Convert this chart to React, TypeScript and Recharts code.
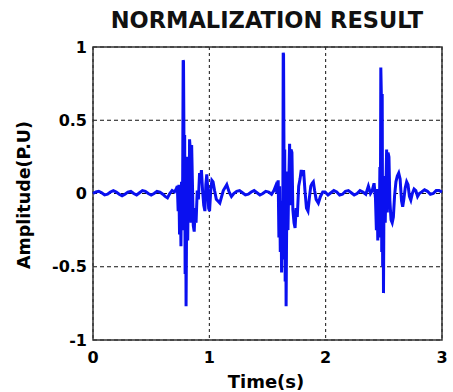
import React from "react";
import { LineChart, Line, XAxis, YAxis, CartesianGrid, ReferenceArea, Label } from "recharts";

// [time (s), amplitude (P.U)], segment by segment
const leadIn: [number, number][] = [
  [0, 0.0], [0.025, 0.01], [0.05, 0.015], [0.075, 0.005], [0.1, -0.01], [0.125, -0.005], [0.15, 0.01],
  [0.175, 0.02], [0.2, 0.01], [0.225, -0.005], [0.25, -0.015], [0.275, -0.005], [0.3, 0.01], [0.325, 0.015],
  [0.35, 0.0], [0.375, -0.01], [0.4, 0.005], [0.425, 0.02], [0.45, 0.015], [0.475, 0.0], [0.5, -0.01],
  [0.525, 0.0], [0.55, 0.015], [0.575, 0.01], [0.6, -0.005], [0.62, -0.02], [0.64, -0.03], [0.66, 0.0],
  [0.68, 0.02], [0.7, 0.01], [0.715, 0.03], [0.725, 0.05],
];

const burst1: [number, number][] = [
  [0.732, -0.12], [0.738, 0.06], [0.744, -0.28], [0.75, 0.02], [0.756, -0.36], [0.761, 0.08], [0.766, -0.25],
  [0.771, 0.12], [0.775, 0.91], [0.778, 0.9], [0.781, 0.5], [0.784, -0.2], [0.788, 0.4], [0.792, -0.55],
  [0.796, 0.15], [0.8, -0.77], [0.803, -0.4], [0.806, -0.05], [0.81, 0.25], [0.814, -0.32], [0.82, 0.1],
  [0.826, -0.18], [0.83, 0.37], [0.836, 0.3], [0.842, -0.2], [0.848, 0.33], [0.854, 0.1], [0.862, -0.22],
  [0.87, -0.26], [0.878, -0.1], [0.886, -0.2], [0.896, 0.02], [0.906, -0.04], [0.916, 0.14], [0.924, 0.08],
  [0.932, 0.16], [0.942, 0.02], [0.952, -0.08], [0.962, -0.12], [0.97, 0.06], [0.978, 0.13], [0.986, 0.04],
  [0.994, -0.1], [1.002, -0.12], [1.012, 0.02], [1.022, 0.09], [1.032, 0.08], [1.045, 0.02], [1.06, -0.04],
  [1.09, -0.065], [1.12, 0.02], [1.15, 0.06], [1.17, 0.01], [1.19, -0.02],
];

const quiet1: [number, number][] = [
  [1.21, 0.0], [1.235, 0.015], [1.26, 0.02], [1.285, 0.005], [1.31, -0.01], [1.335, -0.005], [1.36, 0.01],
  [1.385, 0.02], [1.41, 0.005], [1.435, -0.01], [1.46, 0.0], [1.485, 0.015], [1.51, 0.01], [1.535, -0.005],
  [1.555, 0.02], [1.57, 0.05], [1.582, 0.0], [1.592, 0.09],
];

const burst2: [number, number][] = [
  [1.598, -0.3], [1.604, 0.05], [1.61, -0.4], [1.616, -0.05], [1.621, -0.54], [1.626, -0.1], [1.631, -0.45],
  [1.635, 0.96], [1.638, 0.95], [1.641, 0.4], [1.644, -0.3], [1.648, 0.3], [1.652, -0.6], [1.656, 0.1],
  [1.66, -0.77], [1.663, -0.4], [1.666, -0.1], [1.67, 0.15], [1.676, -0.25], [1.682, 0.05], [1.69, 0.34],
  [1.696, -0.08], [1.702, 0.3], [1.71, 0.28], [1.718, -0.11], [1.728, -0.2], [1.737, -0.235], [1.746, -0.1],
  [1.756, -0.16], [1.768, 0.05], [1.78, 0.1], [1.79, 0.16], [1.8, 0.12], [1.81, 0.16], [1.822, 0.02],
  [1.835, -0.1], [1.848, -0.12], [1.86, -0.03], [1.872, 0.05], [1.884, 0.07], [1.894, 0.08], [1.905, 0.02],
  [1.918, -0.04], [1.937, -0.065], [1.955, -0.02], [1.975, 0.01], [1.995, 0.01],
];

const quiet2: [number, number][] = [
  [2.02, -0.01], [2.045, 0.005], [2.07, 0.02], [2.095, 0.01], [2.12, -0.01], [2.145, -0.005], [2.17, 0.015],
  [2.195, 0.02], [2.22, 0.005], [2.245, -0.01], [2.27, 0.0], [2.295, 0.02], [2.32, 0.01], [2.345, -0.005],
  [2.367, 0.05], [2.385, 0.0], [2.4, 0.02], [2.416, 0.07], [2.428, -0.03],
];

const burst3: [number, number][] = [
  [2.436, -0.25], [2.442, 0.03], [2.448, -0.32], [2.454, -0.05], [2.46, -0.3], [2.466, 0.18], [2.47, -0.2],
  [2.474, 0.86], [2.478, 0.7], [2.482, -0.4], [2.486, 0.68], [2.49, -0.5], [2.494, 0.05], [2.497, -0.68],
  [2.501, -0.05], [2.506, 0.12], [2.512, -0.2], [2.518, 0.05], [2.524, 0.3], [2.53, -0.13], [2.536, 0.28],
  [2.544, 0.25], [2.552, -0.05], [2.562, -0.18], [2.572, -0.2], [2.582, -0.16], [2.592, -0.02], [2.604, 0.08],
  [2.616, 0.12], [2.628, 0.14], [2.64, 0.1], [2.652, -0.05], [2.662, -0.09], [2.672, -0.04], [2.684, 0.04],
  [2.696, 0.08], [2.708, 0.06], [2.72, -0.02], [2.732, -0.045], [2.745, 0.0], [2.76, 0.03], [2.775, 0.02],
  [2.79, -0.02], [2.805, 0.0],
];

const tail: [number, number][] = [
  [2.825, 0.01], [2.85, 0.025], [2.875, 0.015], [2.9, -0.005], [2.925, 0.0], [2.95, 0.02], [2.975, 0.02],
  [3.0, 0.01],
];

const xTicks = [0, 1, 2, 3];
const yTicks = [-1, -0.5, 0, 0.5, 1];

const data = [...leadIn, ...burst1, ...quiet1, ...burst2, ...quiet2, ...burst3, ...tail].map(([t, v]) => ({ t, v }));

const FONT = "'DejaVu Sans', 'Liberation Sans', Arial, sans-serif";
const tickStyle = { fontFamily: FONT, fontSize: 16, fontWeight: 700, fill: "#000" };

export default function App() {
  return (
    <div style={{ position: "absolute", left: 0, top: 0, width: 453, height: 392, background: "#fff" }}>
      <div
        style={{
          position: "absolute",
          left: 67,
          top: 8,
          width: 400,
          textAlign: "center",
          fontFamily: FONT,
          fontWeight: 700,
          fontSize: 22.5,
          lineHeight: "24px",
          color: "#111",
        }}
      >
        NORMALIZATION RESULT
      </div>
      <LineChart width={453} height={392} data={data} margin={{ top: 47, right: 11, bottom: 22, left: 33 }}>
        <CartesianGrid vertical={false} stroke="#111" strokeDasharray="4 3" />
        <CartesianGrid horizontal={false} stroke="#111" strokeDasharray="3 3" />
        <XAxis
          dataKey="t"
          type="number"
          domain={[0, 3]}
          ticks={xTicks}
          axisLine={false}
          tickLine={false}
          tickSize={0}
          tickMargin={12}
          height={30}
          tick={tickStyle}
          interval={0}
        >
          <Label
            content={() => (
              <text x={266} y={381} textAnchor="middle" dominantBaseline="central" style={{ fontFamily: FONT, fontSize: 18, fontWeight: 700 }} fill="#000">
                Time(s)
              </text>
            )}
          />
        </XAxis>
        <YAxis
          type="number"
          domain={[-1, 1]}
          ticks={yTicks}
          axisLine={false}
          tickLine={false}
          tickSize={0}
          tickMargin={6}
          width={60}
          tick={tickStyle}
          interval={0}
        >
          <Label
            content={() => (
              <text x={24} y={195} transform="rotate(-90 24 195)" textAnchor="middle" dominantBaseline="central" style={{ fontFamily: FONT, fontSize: 17.5, fontWeight: 700 }} fill="#000">
                Amplitude(P.U)
              </text>
            )}
          />
        </YAxis>
        <Line type="linear" dataKey="v" stroke="#0a10f0" strokeWidth={3} dot={false} isAnimationActive={false} />
        <ReferenceArea x1={0} x2={3} y1={-1} y2={1} fill="none" stroke="#333" strokeWidth={1.5} ifOverflow="visible" />
      </LineChart>
    </div>
  );
}
